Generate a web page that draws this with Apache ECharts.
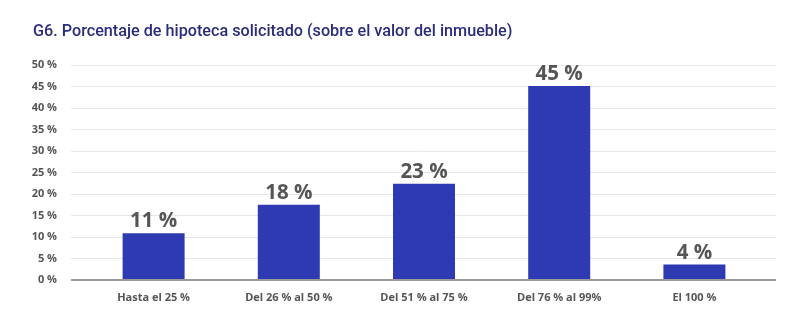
<!DOCTYPE html>
<html><head><meta charset="utf-8">
<script src="https://cdn.jsdelivr.net/npm/echarts@6/dist/echarts.min.js"></script>
<style>html,body{margin:0;padding:0;background:#fff}#c{width:808px;height:329px}</style>
</head><body><div id="c"></div>
<script>
const categories = ["Hasta el 25 %", "Del 26 % al 50 %", "Del 51 % al 75 %", "Del 76 % al 99%", "El 100 %"];
const values = [10.9, 17.5, 22.4, 45.1, 3.6];
const valueLabels = ["11 %", "18 %", "23 %", "45 %", "4 %"];
const yTicks = [0, 5, 10, 15, 20, 25, 30, 35, 40, 45, 50];
const titleText = "G6. Porcentaje de hipoteca solicitado (sobre el valor del inmueble)";

const chart = echarts.init(document.getElementById('c'), null, {renderer: 'canvas'});
chart.setOption({
  animation: false,
  title: {
    text: titleText, left: 28, top: 19,
    textStyle: {fontFamily: 'Roboto', fontWeight: 500, fontSize: 16.2, color: '#2a2d7c'}
  },
  grid: [
    {left: 71, right: 32, top: 65, bottom: 49},
    {left: 86, right: 46, top: 65, bottom: 49}
  ],
  xAxis: [
    {gridIndex: 0, type: 'value', min: 0, max: 1, show: false},
    {gridIndex: 1, type: 'category', data: categories,
     axisLine: {show: false}, axisTick: {show: false},
     axisLabel: {margin: 12, fontFamily: 'Open Sans', fontWeight: 'bold', fontSize: 11, color: '#555'}}
  ],
  yAxis: [
    {gridIndex: 0, type: 'value', min: 0, max: 50, interval: 5,
     axisLine: {show: false}, axisTick: {show: false},
     axisLabel: {margin: 14, fontFamily: 'Open Sans', fontWeight: 'bold', fontSize: 11, color: '#555',
       formatter: v => yTicks.includes(v) ? v + ' %' : ''},
     splitLine: {lineStyle: {color: '#e8e8e8', width: 1}}},
    {gridIndex: 1, type: 'value', min: 0, max: 50, interval: 5, show: false, splitLine: {show: false}}
  ],
  series: [
    {type: 'line', xAxisIndex: 0, yAxisIndex: 0, data: [[0, 0], [1, 0]], symbol: 'none',
     lineStyle: {color: '#9a9a9a', width: 2}, silent: true, z: 5},
    {type: 'bar', xAxisIndex: 1, yAxisIndex: 1, data: values, barWidth: 62,
     itemStyle: {color: '#2e3ab1'},
     label: {show: true, position: 'top', distance: 1,
       formatter: p => valueLabels[p.dataIndex],
       fontFamily: 'Open Sans', fontWeight: 'bold', fontSize: 20.5, color: '#555'}}
  ]
});
</script></body></html>
